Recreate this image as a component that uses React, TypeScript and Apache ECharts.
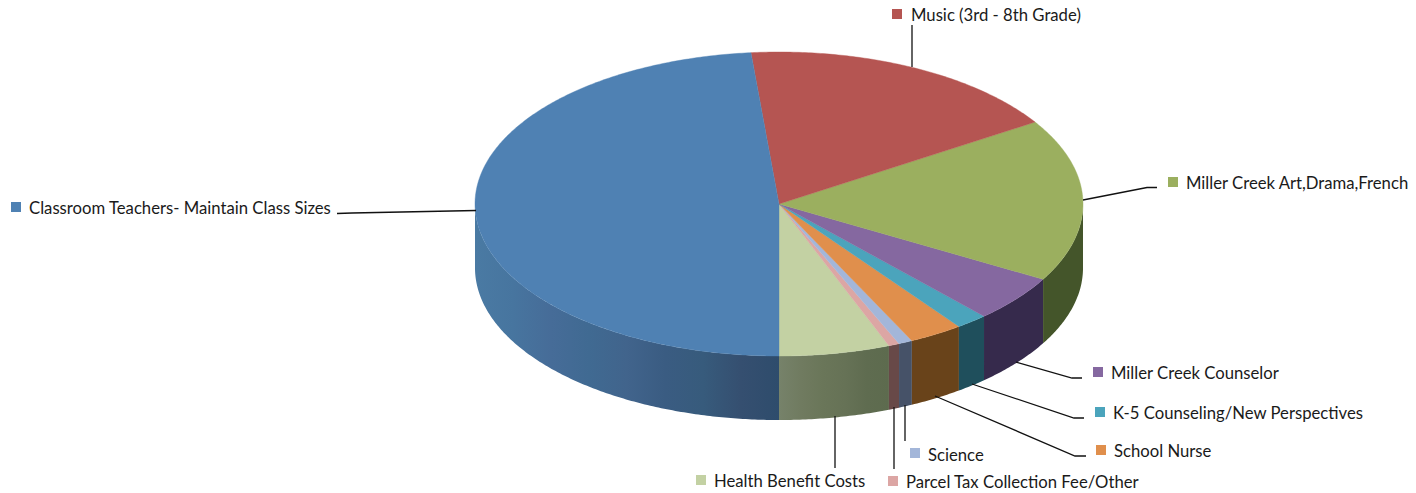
import React, { useEffect, useRef } from "react";
import * as echarts from "echarts";

// Share of the budget, in percent.
const categories = [
  "Health Benefit Costs",
  "Parcel Tax Collection Fee/Other",
  "Science",
  "School Nurse",
  "K-5 Counseling/New Perspectives",
  "Miller Creek Counselor",
  "Miller Creek Art,Drama,French",
  "Music (3rd - 8th Grade)",
  "Classroom Teachers- Maintain Class Sizes",
];
// Values run anticlockwise from the bottom of the pie.
const shares = [5.89, 0.57, 0.74, 2.88, 1.7, 4.97, 17.31, 17.41, 48.53];

const topColors = ["#C3D1A3", "#DCA6A4", "#A3B6D9", "#E08F4C", "#4BA4BC", "#8568A0", "#9BAF5F", "#B55552", "#4F81B3"];

const horiz = (stops: string[]) => ({
  type: "linear", x: 0, y: 0, x2: 1, y2: 0,
  colorStops: stops.map((c, i) => ({ offset: i / (stops.length - 1), color: c })),
});
const sideColors: any[] = [
  horiz(["#76826A", "#707B60", "#6A7659", "#667256", "#5F6C50", "#5D6B4E"]),
  "#684948",
  "#465268",
  "#69431A",
  "#1F4F5C",
  "#362A4C",
  "#44552A",
  "#4A2A28",
  horiz(["#4A7AA3", "#47759F", "#466C98", "#406A92", "#41648C", "#3A5C82", "#375B7C", "#354F70", "#2E4C6C"]),
];

const CX = 779, CY = 204, RX = 304, RY = 152, DEPTH = 64;

const labelLayout = [
  { marker: [696, 475], text: [714, 481], line: [[835, 416], [835, 468]] },
  { marker: [888, 476], text: [906, 482], line: [[894, 407], [894, 469]] },
  { marker: [910, 448], text: [928, 455], line: [[905, 405], [905, 441]] },
  { marker: [1096, 445], text: [1114, 451], line: [[935, 396], [1075, 456], [1086, 456]] },
  { marker: [1095, 407], text: [1113, 413], line: [[972, 384], [1074, 418], [1084, 418]] },
  { marker: [1093, 367], text: [1111, 373], line: [[1016, 362], [1072, 378], [1082, 378]] },
  { marker: [1168, 177], text: [1186, 183], line: [[1083, 200], [1147, 187.5], [1157, 187.5]] },
  { marker: [892, 9], text: [911, 15], line: [[912, 25], [912, 67]] },
  { marker: [11, 202], text: [29, 208], line: [[337, 213.5], [352, 213], [476, 210.5]] },
];

// Angle measured from the pie's bottom, going anticlockwise on screen.
const total = shares.reduce((a, b) => a + b, 0);
const spans = shares.map((_, i) => {
  const before = shares.slice(0, i).reduce((a, b) => a + b, 0);
  return [(before / total) * 2 * Math.PI, ((before + shares[i]) / total) * 2 * Math.PI];
});
const pt = (a: number, dy = 0): number[] => [CX + RX * Math.sin(a), CY + RY * Math.cos(a) + dy];
const arc = (a0: number, a1: number, dy = 0) => {
  const n = Math.max(2, Math.ceil(Math.abs(a1 - a0) / 0.01));
  const out: number[][] = [];
  for (let i = 0; i <= n; i++) out.push(pt(a0 + ((a1 - a0) * i) / n, dy));
  return out;
};

const renderTop = (params: any) => {
  const i = params.dataIndex;
  const [a0, a1] = spans[i];
  return {
    type: "polygon",
    shape: { points: [[CX, CY], ...arc(a0, a1)] },
    style: { fill: topColors[i], stroke: topColors[i], lineWidth: 0.4 },
  };
};

// Only the near half of the rim is visible: from the right edge, through the
// bottom, to the left edge.
const renderSide = (params: any) => {
  const i = params.dataIndex;
  const visible = [
    [spans[i][0], Math.min(spans[i][1], Math.PI / 2)],
    [Math.max(spans[i][0], (3 * Math.PI) / 2), Math.min(spans[i][1], 2 * Math.PI)],
  ].filter((s) => s[1] > s[0]);
  return {
    type: "group",
    children: visible.map(([a0, a1]) => ({
      type: "polygon",
      shape: { points: [...arc(a0, a1), ...arc(a1, a0, DEPTH)] },
      style: { fill: sideColors[i] },
    })),
  };
};

const labelGraphics = categories.flatMap((name, i) => {
  const l = labelLayout[i];
  return [
    {
      type: "polyline", silent: true, z: 5,
      shape: { points: l.line },
      style: { stroke: "#111", lineWidth: 1.3, fill: "none" },
    },
    {
      type: "rect", silent: true, z: 5,
      shape: { x: l.marker[0], y: l.marker[1], width: 10, height: 10 },
      style: { fill: topColors[i] },
    },
    {
      type: "text", silent: true, z: 5,
      x: l.text[0], y: l.text[1],
      style: {
        text: name, fill: "#1a1a1a", font: "16.7px Lato",
        textAlign: "left", textVerticalAlign: "middle",
      },
    },
  ];
});

export default function App() {
  const ref = useRef<HTMLDivElement>(null);
  useEffect(() => {
    const chart = echarts.init(ref.current!, null, { renderer: "svg" });
    const data = shares.map((v, i) => ({ name: categories[i], value: v }));
    chart.setOption({
      animation: false,
      backgroundColor: "#fff",
      graphic: labelGraphics,
      series: [
        { type: "custom", coordinateSystem: "none", silent: true, z: 1, renderItem: renderSide, data },
        { type: "custom", coordinateSystem: "none", silent: true, z: 2, renderItem: renderTop, data },
      ],
    });
    return () => chart.dispose();
  }, []);
  return <div ref={ref} style={{ position: "absolute", left: 0, top: 0, width: 1416, height: 493 }} />;
}
